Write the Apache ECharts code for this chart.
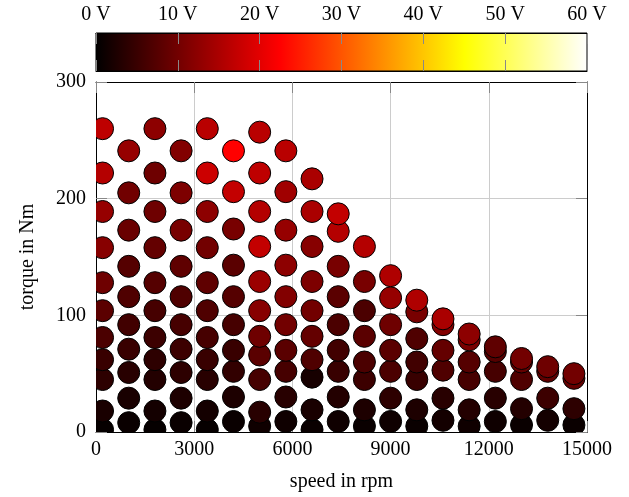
<!DOCTYPE html>
<html>
<head>
<meta charset="utf-8">
<script src="https://cdn.jsdelivr.net/npm/echarts@6.0.0/dist/echarts.min.js"></script>
<style>
  html, body { margin: 0; padding: 0; background: #fff; }
  #chart { width: 629px; height: 497px; }
</style>
</head>
<body>
<div id="chart"></div>
<script>
// speed columns in rpm
const speeds = [200, 1000, 1800, 2600, 3400, 4200, 5000, 5800, 6600, 7400,
                8200, 9000, 9800, 10600, 11400, 12200, 13000, 13800, 14600];

// torque points per speed column (Nm), low to high
const torques = [
  [2, 18, 45, 62, 81, 104, 128, 158, 189, 222, 260],
  [8, 29, 51, 71, 92, 116, 142, 173, 205, 241],
  [2, 18, 45, 62, 81, 104, 128, 158, 189, 222, 260],
  [8, 29, 51, 71, 92, 116, 142, 173, 205, 241],
  [2, 18, 45, 62, 81, 104, 128, 158, 189, 222, 260],
  [9, 30, 52, 70, 92, 116, 143, 174, 206, 241],
  [5, 17, 45, 66, 82, 104, 129, 159, 189, 222, 257],
  [9, 30, 52, 70, 92, 116, 143, 173, 206, 241],
  [2, 19, 47, 62, 82, 104, 129, 159, 189, 217],
  [9, 30, 52, 70, 92, 116, 142, 172, 187],
  [5, 19, 45, 60, 82, 104, 129, 159],
  [9, 29, 52, 70, 92, 115, 134],
  [5, 19, 45, 60, 80, 103, 113],
  [10, 29, 53, 70, 92, 97],
  [5, 19, 45, 60, 79, 84],
  [9, 29, 52, 69, 73],
  [6, 20, 45, 60, 63],
  [10, 29, 52, 56],
  [6, 20, 46, 50]
];

// voltage at each point (V), same layout as torques
const volts = [
  [0.5, 2.2, 4.0, 4.9, 6.6, 8.0, 9.7, 11.9, 13.2, 15.9, 16.8],
  [0.9, 2.2, 3.5, 4.9, 5.7, 7.0, 7.5, 9.3, 10.0, 13.2],
  [0.5, 1.8, 3.1, 4.0, 5.3, 6.2, 7.5, 8.8, 9.7, 9.7, 12.4],
  [0.9, 2.6, 4.0, 5.3, 6.2, 7.0, 8.4, 10.6, 11.0, 11.5],
  [0.5, 1.8, 3.5, 4.9, 6.2, 7.0, 8.4, 10.1, 12.4, 18.0, 16.3],
  [0.9, 2.6, 4.4, 4.9, 6.2, 7.5, 7.9, 10.6, 17.2, 22.5],
  [1.3, 3.5, 6.2, 7.9, 9.7, 11.9, 13.7, 17.2, 15.9, 16.8, 16.3],
  [1.3, 3.5, 6.2, 7.9, 10.1, 11.5, 12.4, 13.2, 14.1, 16.3],
  [0.9, 2.2, 2.0, 7.0, 8.8, 10.1, 11.0, 11.9, 15.0, 15.0],
  [1.3, 3.1, 4.9, 5.7, 6.6, 7.9, 10.6, 15.9, 17.2],
  [0.9, 2.6, 5.3, 6.6, 7.9, 6.6, 10.6, 15.9],
  [1.3, 4.0, 6.6, 7.9, 9.7, 13.2, 15.4],
  [0.9, 2.6, 4.9, 5.7, 7.0, 10.6, 15.4],
  [1.8, 3.5, 7.0, 8.8, 11.5, 15.0],
  [1.3, 3.1, 6.2, 7.5, 10.6, 12.4],
  [1.3, 3.5, 6.2, 7.5, 8.4],
  [0.9, 3.1, 7.0, 8.8, 10.1],
  [1.8, 5.3, 8.4, 9.7],
  [0.9, 4.0, 8.8, 10.1]
];

// "hot" colormap, evenly spaced stops over 0..60 V
const hotColors = ['#000000', '#550000', '#aa0000', '#ff0000', '#ff5500',
                   '#ffaa00', '#ffff00', '#ffff80', '#ffffff'];
const voltRange = [0, 60];

let points = [];
for (let i = 0; i < speeds.length; i++) {
  for (let j = 0; j < torques[i].length; j++) {
    points.push([speeds[i], torques[i][j], volts[i][j]]);
  }
}

const font = 'Liberation Serif';
const fs = 20;
const tickGray = '#888';
const gridGray = '#cccccc';

let stops = hotColors.map(function (c, k) {
  return { offset: k / (hotColors.length - 1), color: c };
});

let chart = echarts.init(document.getElementById('chart'));
let option = {
  animation: false,
  backgroundColor: '#fff',
  textStyle: { fontFamily: font },
  grid: [
    { left: 96, right: 42, top: 82, bottom: 65 },
    { left: 96, right: 42, top: 33, height: 38 }
  ],
  visualMap: {
    type: 'continuous',
    show: false,
    seriesIndex: 0,
    dimension: 2,
    min: voltRange[0],
    max: voltRange[1],
    inRange: { color: hotColors }
  },
  xAxis: [
    {
      gridIndex: 0, type: 'value', min: 0, max: 15000, interval: 3000,
      name: 'speed in rpm', nameLocation: 'middle', nameGap: 40,
      nameTextStyle: { color: '#000', fontSize: fs, fontFamily: font },
      axisLine: { show: true, lineStyle: { color: '#000', width: 1 } },
      axisTick: { show: true, inside: true, length: 11, lineStyle: { color: tickGray } },
      axisLabel: { color: '#000', fontSize: fs, fontFamily: font, margin: 8,
                   formatter: function (v) { return String(v); } },
      splitLine: { show: true, lineStyle: { color: gridGray, width: 1 } }
    },
    {
      gridIndex: 0, type: 'value', min: 0, max: 15000, interval: 3000, position: 'top',
      axisLine: { show: true, onZero: false, lineStyle: { color: '#000', width: 1 } },
      axisTick: { show: true, inside: true, length: 11, lineStyle: { color: tickGray } },
      axisLabel: { show: false },
      splitLine: { show: false }
    },
    {
      gridIndex: 1, type: 'value', min: voltRange[0], max: voltRange[1], interval: 10, position: 'top',
      z: 5,
      axisLine: { show: true, onZero: false, lineStyle: { color: '#000', width: 1 } },
      axisTick: { show: true, inside: true, length: 11, lineStyle: { color: tickGray } },
      axisLabel: { color: '#000', fontSize: fs, fontFamily: font, margin: 8, formatter: '{value} V' },
      splitLine: { show: false }
    },
    {
      gridIndex: 1, type: 'value', min: voltRange[0], max: voltRange[1], interval: 10, position: 'bottom',
      z: 5,
      axisLine: { show: true, onZero: false, lineStyle: { color: '#000', width: 1 } },
      axisTick: { show: true, inside: true, length: 11, lineStyle: { color: tickGray } },
      axisLabel: { show: false },
      splitLine: { show: false }
    }
  ],
  yAxis: [
    {
      gridIndex: 0, type: 'value', min: 0, max: 300, interval: 100,
      name: 'torque in Nm', nameLocation: 'middle', nameGap: 58,
      nameTextStyle: { color: '#000', fontSize: fs, fontFamily: font },
      axisLine: { show: true, lineStyle: { color: '#000', width: 1 } },
      axisTick: { show: true, inside: true, length: 11, lineStyle: { color: tickGray } },
      axisLabel: { color: '#000', fontSize: fs, fontFamily: font, margin: 10 },
      splitLine: { show: true, lineStyle: { color: gridGray, width: 1 } }
    },
    {
      gridIndex: 0, type: 'value', min: 0, max: 300, interval: 100, position: 'right',
      axisLine: { show: true, onZero: false, lineStyle: { color: '#000', width: 1 } },
      axisTick: { show: true, inside: true, length: 11, lineStyle: { color: tickGray } },
      axisLabel: { show: false },
      splitLine: { show: false }
    },
    {
      gridIndex: 1, type: 'value', min: 0, max: 1, show: false
    }
  ],
  series: [
    {
      type: 'custom',
      xAxisIndex: 0,
      yAxisIndex: 0,
      clip: true,
      data: points,
      encode: { x: 0, y: 1 },
      renderItem: function (params, api) {
        let p = api.coord([api.value(0), api.value(1)]);
        return {
          type: 'circle',
          shape: { cx: p[0], cy: p[1], r: 11 },
          style: { fill: api.visual('color'), stroke: '#000', lineWidth: 1 }
        };
      }
    },
    {
      type: 'custom',
      xAxisIndex: 2,
      yAxisIndex: 2,
      z: 1,
      data: [voltRange],
      encode: { x: [0, 1] },
      renderItem: function (params, api) {
        let a = api.coord([api.value(0), 0]);
        let b = api.coord([api.value(1), 1]);
        return {
          type: 'rect',
          shape: { x: a[0], y: b[1], width: b[0] - a[0], height: a[1] - b[1] },
          style: {
            fill: new echarts.graphic.LinearGradient(0, 0, 1, 0, stops),
            stroke: '#000',
            lineWidth: 1
          }
        };
      }
    }
  ]
};
chart.setOption(option);
</script>
</body>
</html>
